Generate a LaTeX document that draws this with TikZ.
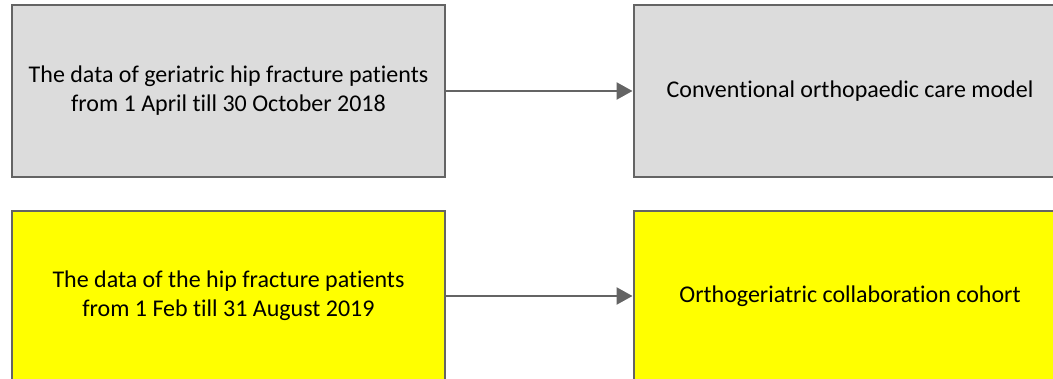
\documentclass[tikz,border=0pt]{standalone}
\usepackage{fontspec}
\setmainfont{Carlito}[Ligatures=NoCommon]
\usetikzlibrary{arrows.meta}

\definecolor{boxgray}{RGB}{220,220,220}
\definecolor{edgegray}{RGB}{100,100,100}
\definecolor{boxyellow}{RGB}{255,255,0}

\begin{document}
\begin{tikzpicture}[x=1pt,y=-1pt,
  box/.style={rectangle,draw=edgegray,line width=2pt,align=center,
    font=\fontsize{24}{29}\selectfont,inner sep=0pt},
  old box/.style={box,fill=boxgray,minimum width=433pt,minimum height=172pt},
  new box/.style={box,fill=boxyellow,minimum width=433pt,minimum height=170pt},
  link/.style={draw=edgegray,line width=2.5pt,
    -{Triangle[length=16pt,width=17pt]}}]

  \clip (0,0) rectangle (1053,378);

  \node[old box] (olddata) at (228.5,91) {The data of geriatric hip fracture patients\\from 1 April till 30 October 2018};
  \node[old box] (oldmodel) at (850,91) {Conventional orthopaedic care model};
  \node[new box] (newdata) at (228.5,296) {The data of the hip fracture patients\\from 1 Feb till 31 August 2019};
  \node[new box] (newmodel) at (850,296) {Orthogeriatric collaboration cohort};

  \draw[link] (olddata) -- (oldmodel);
  \draw[link] (newdata) -- (newmodel);
\end{tikzpicture}
\end{document}
